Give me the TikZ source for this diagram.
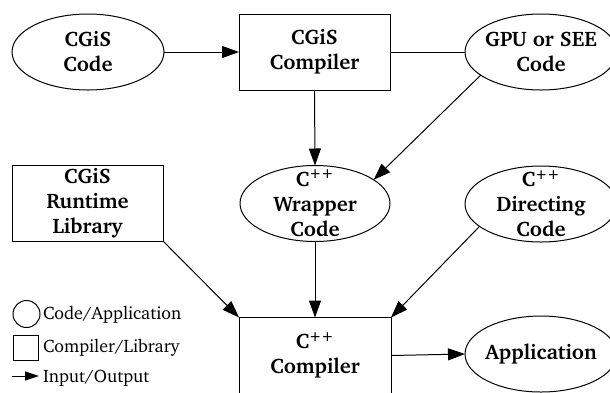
\documentclass[tikz,border=0pt]{standalone}
\usepackage[T1]{fontenc}
\usepackage{charter}
\usetikzlibrary{arrows.meta,shapes.geometric}
\begin{document}
\begin{tikzpicture}[x=1pt,y=-1pt,line width=1pt,
  every node/.style={inner sep=0pt, outer sep=0pt},
  lbl/.style={font=\fontsize{21}{25}\selectfont\bfseries, align=center},
  legtext/.style={font=\fontsize{18}{21}\selectfont, anchor=west},
  codenode/.style={draw, ellipse, minimum width=152pt, minimum height=76pt},
  boxnode/.style={draw, rectangle, minimum width=151pt, minimum height=76pt},
  flow/.style={-{Triangle[length=17pt,width=12pt]}},
  smallflow/.style={-{Triangle[length=14pt,width=9pt]}}]
\useasboundingbox (0,0) rectangle (610,392);
\clip (0,0) rectangle (610,392);

% shapes
\node[codenode] (code) at (88,52) {};
\node[boxnode] (comp) at (314.5,52) {};
\node[codenode] (gpu) at (541,52) {};
\node[boxnode] (lib) at (87.5,203) {};
\node[codenode, minimum width=150pt] (wrap) at (315,203.5) {};
\node[codenode] (dir) at (541,204) {};
\node[boxnode, minimum width=152pt] (cc) at (315,355.5) {};
\node[codenode] (app) at (541,354) {};

% labels
\node[lbl] (codeT) at (code) {CGiS\\Code};
\node[lbl] (compT) at (comp) {CGiS\\Compiler};
\node[lbl] (gpuT) at (gpu) {GPU or SEE\\Code};
\node[lbl] (libT) at (lib) {CGiS\\Runtime\\Library};
\node[lbl] (wrapT) at (wrap) {C\textsuperscript{++}\\Wrapper\\Code};
\node[lbl] (dirT) at (dir) {C\textsuperscript{++}\\Directing\\Code};
\node[lbl] (ccT) at (cc) {C\textsuperscript{++}\\Compiler};
\node[lbl] (appT) at (app) {Application};

% connectors
\draw[flow] (code.east) -- (comp.west);
\draw (comp.east) -- (gpu.west);
\draw[flow] (comp.south) -- (wrap.north);
\draw[flow] (gpu.201) -- (wrap.22);
\draw[flow] (lib.south east) -- (cc.north west);
\draw[flow] (wrap.south) -- (cc.north);
\draw[flow] (dir.200) -- (cc.north east);
\draw[flow] (cc.east) -- (app.west);

% legend
\node[draw, circle, minimum size=27pt] (legC) at (26.5,314) {};
\node[legtext] (legCT) at (43,315) {Code/Application};
\node[draw, rectangle, minimum size=25pt] (legR) at (25.5,348) {};
\node[legtext] (legRT) at (43,348) {Compiler/Library};
\coordinate (legA) at (12,376);
\coordinate (legB) at (39,376);
\draw[smallflow] (legA) -- (legB);
\node[legtext] (legAT) at (43,378) {Input/Output};
\end{tikzpicture}
\end{document}
